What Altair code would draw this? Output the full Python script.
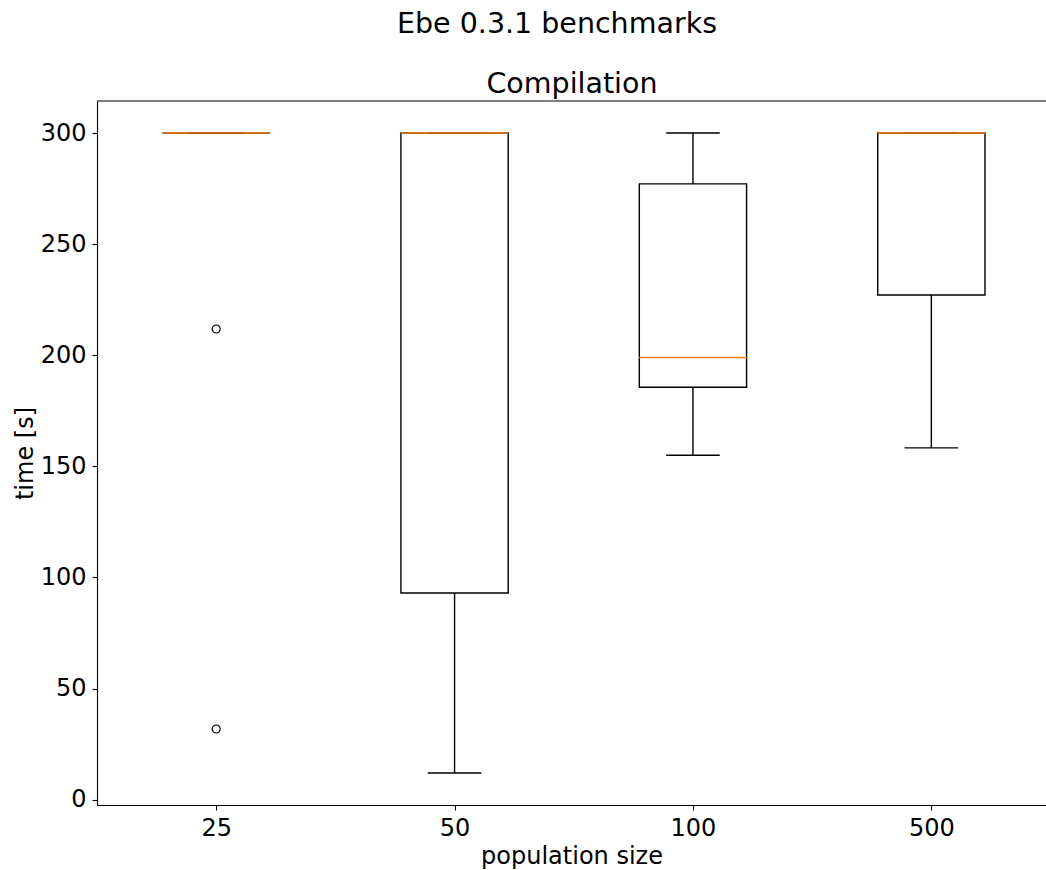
import altair as alt
import pandas as pd

# Benchmark summary per population size (seconds)
categories = ["25", "50", "100", "500"]
whisker_low = [300.0, 12.0, 155.0, 158.3]
q1 = [300.0, 93.0, 185.6, 227.1]
median = [300.0, 300.0, 199.0, 300.0]
q3 = [300.0, 300.0, 277.1, 300.0]
whisker_high = [300.0, 300.0, 300.0, 300.0]

# Outliers: (category, value)
flier_cat = ["25", "25"]
flier_val = [211.8, 31.8]

Y_MIN, Y_MAX = -2.4, 314.4
X_MIN, X_MAX = 0.5, 4.481
BOX_HALF = 0.225
CAP_HALF = 0.1125
WIDTH, HEIGHT = 949, 704
FONT = "DejaVu Sans"

stats = pd.DataFrame({
    "cat": categories,
    "pos": list(range(1, len(categories) + 1)),
    "lo": whisker_low,
    "q1": q1,
    "med": median,
    "q3": q3,
    "hi": whisker_high,
})
fliers = pd.DataFrame({
    "pos": [categories.index(c) + 1 for c in flier_cat],
    "val": flier_val,
})

label_map = "{" + ",".join(f"'{i + 1}':'{c}'" for i, c in enumerate(categories)) + "}"

x_scale = alt.Scale(domain=[X_MIN, X_MAX], nice=False, zero=False)
y_scale = alt.Scale(domain=[Y_MIN, Y_MAX], nice=False, zero=False)

x_axis = alt.Axis(
    values=list(range(1, len(categories) + 1)),
    labelExpr=f"{label_map}[datum.value]",
    title="population size",
    grid=False,
    labelAngle=0,
)
y_axis = alt.Axis(
    values=[0, 50, 100, 150, 200, 250, 300],
    title="time [s]",
    grid=False,
)

base = alt.Chart(stats).transform_calculate(
    left=f"datum.pos - {BOX_HALF}",
    right=f"datum.pos + {BOX_HALF}",
    cleft=f"datum.pos - {CAP_HALF}",
    cright=f"datum.pos + {CAP_HALF}",
)

lower_whisker = base.mark_rule(color="black", strokeWidth=1.4).encode(
    x=alt.X("pos:Q", scale=x_scale, axis=x_axis),
    y=alt.Y("lo:Q", scale=y_scale, axis=y_axis),
    y2="q1:Q",
)
upper_whisker = base.mark_rule(color="black", strokeWidth=1.4).encode(
    x="pos:Q", y="q3:Q", y2="hi:Q"
)
box = base.mark_rect(fill="white", stroke="black", strokeWidth=1.4).encode(
    x="left:Q", x2="right:Q", y="q1:Q", y2="q3:Q"
)
low_cap = base.mark_rule(color="black", strokeWidth=1.4).encode(
    x="cleft:Q", x2="cright:Q", y="lo:Q"
)
high_cap = base.mark_rule(color="black", strokeWidth=1.4).encode(
    x="cleft:Q", x2="cright:Q", y="hi:Q"
)
med_line = base.mark_rule(color="#ff7f0e", strokeWidth=1.4).encode(
    x="left:Q", x2="right:Q", y="med:Q"
)
outliers = alt.Chart(fliers).mark_point(
    shape="circle", filled=False, color="black", size=64, strokeWidth=1.2, opacity=1
).encode(x="pos:Q", y="val:Q")

# top spine of the frame
top_spine = alt.Chart(pd.DataFrame({"k": [0]})).mark_rule(
    color="black", strokeWidth=1.1
).encode(x=alt.value(0), x2=alt.value(WIDTH), y=alt.value(0))

# figure heading and axes heading
headings = pd.DataFrame({
    "t": ["Ebe 0.3.1 benchmarks", "Compilation"],
    "px": [460, 475],
    "py": [-68, -8],
})
heading_text = alt.Chart(headings).mark_text(
    font=FONT, fontSize=28.5, color="black", align="center", baseline="alphabetic"
).encode(
    text="t:N",
    x=alt.X("px:Q", scale=None),
    y=alt.Y("py:Q", scale=None),
)

chart = alt.layer(
    box, lower_whisker, upper_whisker, low_cap, high_cap, med_line, outliers,
    top_spine, heading_text,
).properties(
    width=WIDTH,
    height=HEIGHT,
    autosize=alt.AutoSizeParams(type="none"),
    padding={"left": 97, "top": 101, "right": 0, "bottom": 65},
).configure_view(
    stroke=None
).configure_axis(
    labelFont=FONT, titleFont=FONT, labelFontSize=24, titleFontSize=24,
    labelColor="black", titleColor="black", titleFontWeight="normal",
    domainColor="black", tickColor="black", domainWidth=1.1, tickWidth=1.1,
    tickSize=5, labelPadding=6,
).configure_axisY(
    titlePadding=3,
).configure_axisX(
    titlePadding=4,
)

chart.save("out.html", embed_options={"renderer": "svg", "actions": False})
